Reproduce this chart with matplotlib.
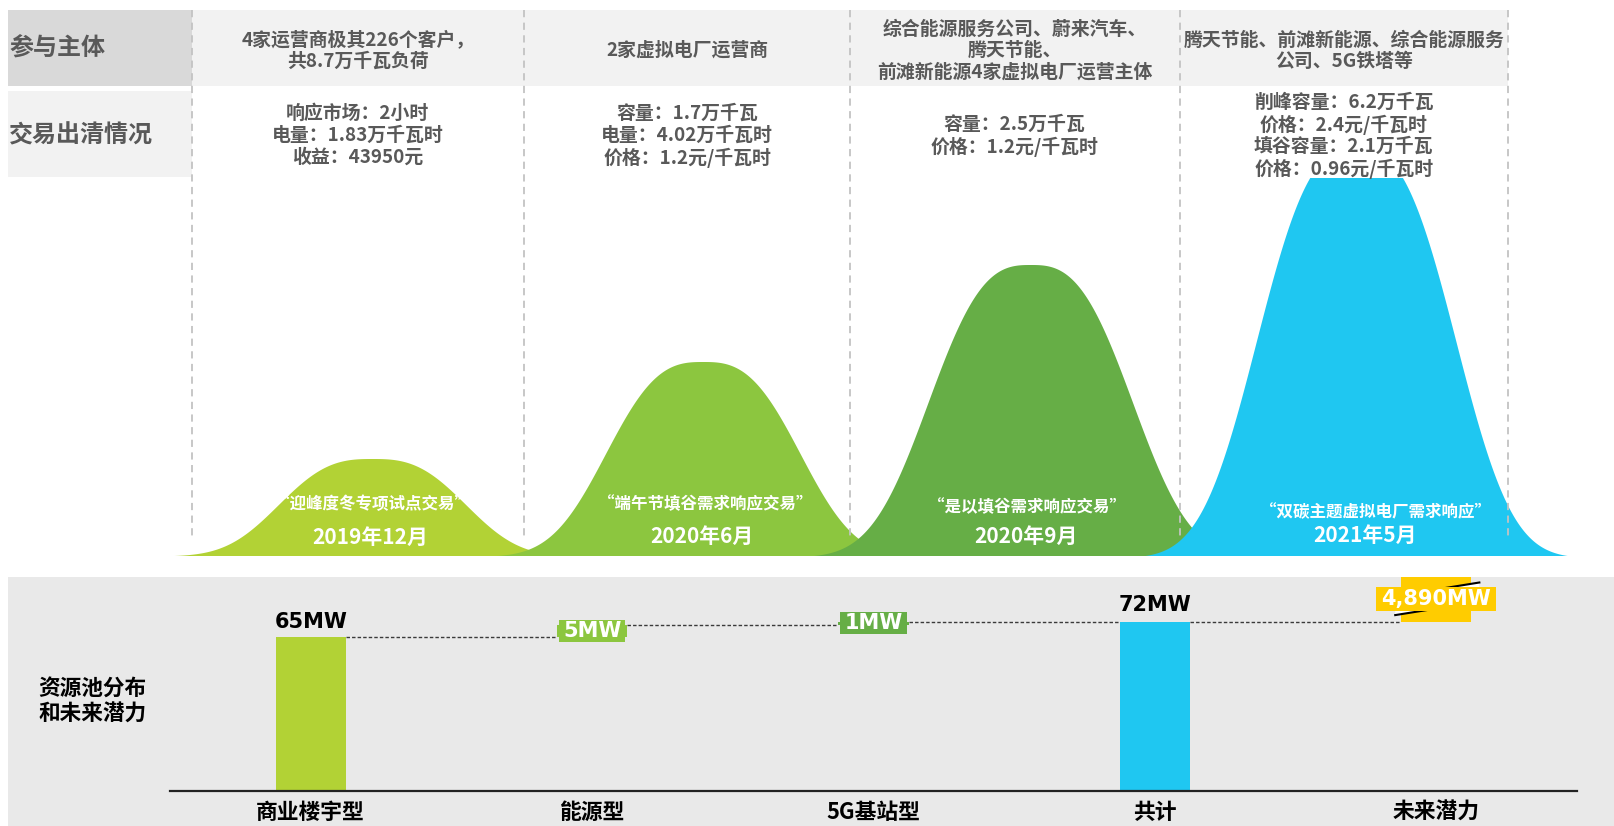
import numpy as np
import matplotlib
matplotlib.use("Agg")
import matplotlib.pyplot as plt
from matplotlib.patches import Rectangle, Polygon

plt.rcParams['font.family'] = ['Noto Sans CJK SC', 'DejaVu Sans']

# ---------------- data ----------------
row_headers = ['参与主体', '交易出清情况']
participants = [
    ['4家运营商极其226个客户，', '共8.7万千瓦负荷'],
    ['2家虚拟电厂运营商'],
    ['综合能源服务公司、蔚来汽车、', '腾天节能、', '前滩新能源4家虚拟电厂运营主体'],
    ['腾天节能、前滩新能源、综合能源服务', '公司、5G铁塔等'],
]
clearing = [
    ['响应市场：2小时', '电量：1.83万千瓦时', '收益：43950元'],
    ['容量：1.7万千瓦', '电量：4.02万千瓦时', '价格：1.2元/千瓦时'],
    ['容量：2.5万千瓦', '价格：1.2元/千瓦时'],
    ['削峰容量：6.2万千瓦', '价格：2.4元/千瓦时', '填谷容量：2.1万千瓦', '价格：0.96元/千瓦时'],
]
event_names = ['“迎峰度冬专项试点交易”', '“端午节填谷需求响应交易”',
               '“是以填谷需求响应交易”', '“双碳主题虚拟电厂需求响应”']
event_dates = ['2019年12月', '2020年6月', '2020年9月', '2021年5月']
event_scale = [1.0, 2.0, 3.0, 4.2]

pool_categories = ['商业楼宇型', '能源型', '5G基站型', '共计', '未来潜力']
pool_parts = [65.4, 5.3, 1.3]
pool_total = 72
pool_future = 4890
pool_title = ['资源池分布', '和未来潜力']

# ---------------- style / layout ----------------
W, H = 1614, 826
curve_colors = ['#b2d235', '#8cc63f', '#66ae46', '#1fc7f1']
future_color = '#ffcc00'
text_gray = '#595959'
col_edges = [191.5, 524, 850, 1179.6, 1508]
col_centers = [(a + b) / 2 for a, b in zip(col_edges[:-1], col_edges[1:])]
peak_pos = [0.55, 1.555, 2.55, 3.54]        # in column units
peak_width = [0.334, 0.347, 0.365, 0.356]
shape_p = 2.8
u_max = 1.8

fig = plt.figure(figsize=(W / 100, H / 100), dpi=100)

def fx(x):
    return x / W

def fy(y):
    return 1 - y / H

# background axes (pixel coordinates)
bg = fig.add_axes([0, 0, 1, 1], zorder=0)
bg.set_xlim(0, W); bg.set_ylim(H, 0); bg.axis('off')

bg.add_patch(Rectangle((8.2, 10.3), col_edges[0] - 8.2, 76.2, color='#d9d9d9', lw=0))
bg.add_patch(Rectangle((col_edges[0], 10.3), col_edges[-1] - col_edges[0], 76.2, color='#f2f2f2', lw=0))
bg.add_patch(Rectangle((8.2, 90.6), col_edges[0] - 8.2, 86.4, color='#f2f2f2', lw=0))
bg.add_patch(Rectangle((8.2, 577), W - 8.2, H - 577 + 2, color='#e9e9e9', lw=0))

# ---------------- curves ----------------
base_y, top_y = 556, 178
upp = 97.0  # px per unit
cax = fig.add_axes([0, fy(base_y), 1, (base_y - top_y) / H], zorder=1)
cw = col_edges[-1] - col_edges[0]
cax.set_xlim(-col_edges[0] / cw * 4, (W - col_edges[0]) / cw * 4)
cax.set_ylim(0, (base_y - top_y) / upp)
cax.axis('off')
cax.patch.set_alpha(0)
xs = np.linspace(-0.6, 4.4, 3000)
e0 = np.exp(-u_max ** shape_p)
for pk, a, h, c in zip(peak_pos, peak_width, event_scale, curve_colors):
    u = np.abs((xs - pk) / a)
    ys = h * np.clip((np.exp(-u ** shape_p) - e0) / (1 - e0), 0, None)
    cax.fill_between(xs, 0, ys, color=c, lw=0)

# ---------------- overlay (lines & text) ----------------
ov = fig.add_axes([0, 0, 1, 1], zorder=2)
ov.set_xlim(0, W); ov.set_ylim(H, 0); ov.axis('off')
ov.patch.set_alpha(0)

for x in col_edges:
    ov.plot([x, x], [10.3, 540], color='#c3c3c3', lw=1.3, dashes=(4, 3))

ov.text(9, 48.4, row_headers[0], ha='left', va='center', fontsize=17.3,
        fontweight='bold', color=text_gray)
ov.text(9, 135.9, row_headers[1], ha='left', va='center', fontsize=17.3,
        fontweight='bold', color=text_gray)

def put_lines(lines, x, yc, pitch, **kw):
    n = len(lines)
    for i, s in enumerate(lines):
        ov.text(x, yc + (i - (n - 1) / 2) * pitch, s, ha='center', va='center', **kw)

for i in range(4):
    put_lines(participants[i], col_centers[i], 50.5, 21.2, fontsize=13.6,
              fontweight='bold', color=text_gray)
    put_lines(clearing[i], col_centers[i], 135.5, 22.2, fontsize=13.6,
              fontweight='bold', color=text_gray)

name_xy = [(371.6, 504.5), (705, 504), (1027, 507.5), (1376, 512.5)]
date_xy = [(370, 537), (701.5, 536.5), (1025.7, 536), (1365, 535.5)]
for i in range(4):
    ov.text(*name_xy[i], event_names[i], ha='center', va='center', fontsize=11.9,
            fontweight='bold', color='white')
    ov.text(*date_xy[i], event_dates[i], ha='center', va='center', fontsize=15,
            fontweight='bold', color='white')

ov.text(38.5, 688.5, pool_title[0], ha='left', va='center', fontsize=15.6, fontweight='bold', color='black')
ov.text(38.5, 714, pool_title[1], ha='left', va='center', fontsize=15.6, fontweight='bold', color='black')

# ---------------- waterfall bars ----------------
ax_y0, ax_y1 = 790.5, 577
bax = fig.add_axes([fx(170), fy(ax_y0), (1577 - 170) / W, (ax_y0 - ax_y1) / H], zorder=3)
bax.patch.set_alpha(0)
bax.set_xlim(-0.5, 4.5)
ppu = 2.345  # px per MW
ymax = (ax_y0 - ax_y1) / ppu
bax.set_ylim(0, ymax)
for s in ['top', 'left', 'right']:
    bax.spines[s].set_visible(False)
bax.spines['bottom'].set_color('#222222')
bax.spines['bottom'].set_linewidth(1.6)
bax.set_yticks([])
bax.set_xticks(range(len(pool_categories)))
bax.set_xticklabels(pool_categories, fontsize=15.7, fontweight='bold', color='black')
bax.tick_params(axis='x', length=0, pad=7.5)

bw = 0.25
cum = np.cumsum([0] + pool_parts)
bar_colors = curve_colors[:3]
bax.bar(0, pool_parts[0], width=bw, color=bar_colors[0], lw=0)
for i in (1, 2):
    bax.bar(i, pool_parts[i], bottom=cum[i], width=bw, color=bar_colors[i], lw=0)
bax.bar(3, pool_total, width=bw, color=curve_colors[3], lw=0)
bax.bar(4, pool_future, bottom=pool_total, width=bw, color=future_color, lw=0)

levels = [cum[1], cum[2], pool_total, pool_total]
for i, lv in enumerate(levels):
    bax.plot([i + bw / 2, i + 1 - bw / 2], [lv, lv], color='#3a3a3a', lw=1.0,
             dashes=(2.5, 1.5))

num_font = dict(family='DejaVu Sans', fontweight='bold', fontsize=15)
bax.annotate(f'{pool_parts[0]:,.0f}MW', (0, cum[1]), xytext=(0, 11), textcoords='offset points',
             ha='center', va='center', color='black', **num_font)
bax.annotate(f'{pool_total:,.0f}MW', (3, pool_total), xytext=(0, 12), textcoords='offset points',
             ha='center', va='center', color='black', **num_font)

box_h = 22.6 / ppu
for i in (1, 2):
    yc = cum[i] + pool_parts[i] / 2
    bax.add_patch(Rectangle((i - 0.1175, yc - box_h / 2), 0.235, box_h, color=bar_colors[i], lw=0, zorder=4))
    bax.text(i, yc, f'{pool_parts[i]:,.0f}MW', ha='center', va='center', color='white', zorder=5, **num_font)

# break marks on the future bar
x0, x1 = 4 - 0.146, 4 + 0.153
lo0, lo1 = pool_total + 2.8, pool_total + 8.5
hi0, hi1 = pool_total + 10.9, pool_total + 16.7
bax.add_patch(Polygon([[x0, lo0], [x1, lo1], [x1, hi1], [x0, hi0]], closed=True,
                      color='white', lw=0, zorder=3))
bax.plot([x0, x1], [lo0, lo1], color='black', lw=1.5, zorder=3.5)
bax.plot([x0, x1], [hi0, hi1], color='black', lw=1.5, zorder=3.5)

yc = (pool_total + ymax) / 2
fb_h = 23.7 / ppu
bax.add_patch(Rectangle((4 - 0.2135, yc - fb_h / 2), 0.427, fb_h, color=future_color, lw=0, zorder=4))
bax.text(4, yc, f'{pool_future:,.0f}MW', ha='center', va='center', color='white', zorder=5, **num_font)

fig.savefig('out.png', dpi=100)
